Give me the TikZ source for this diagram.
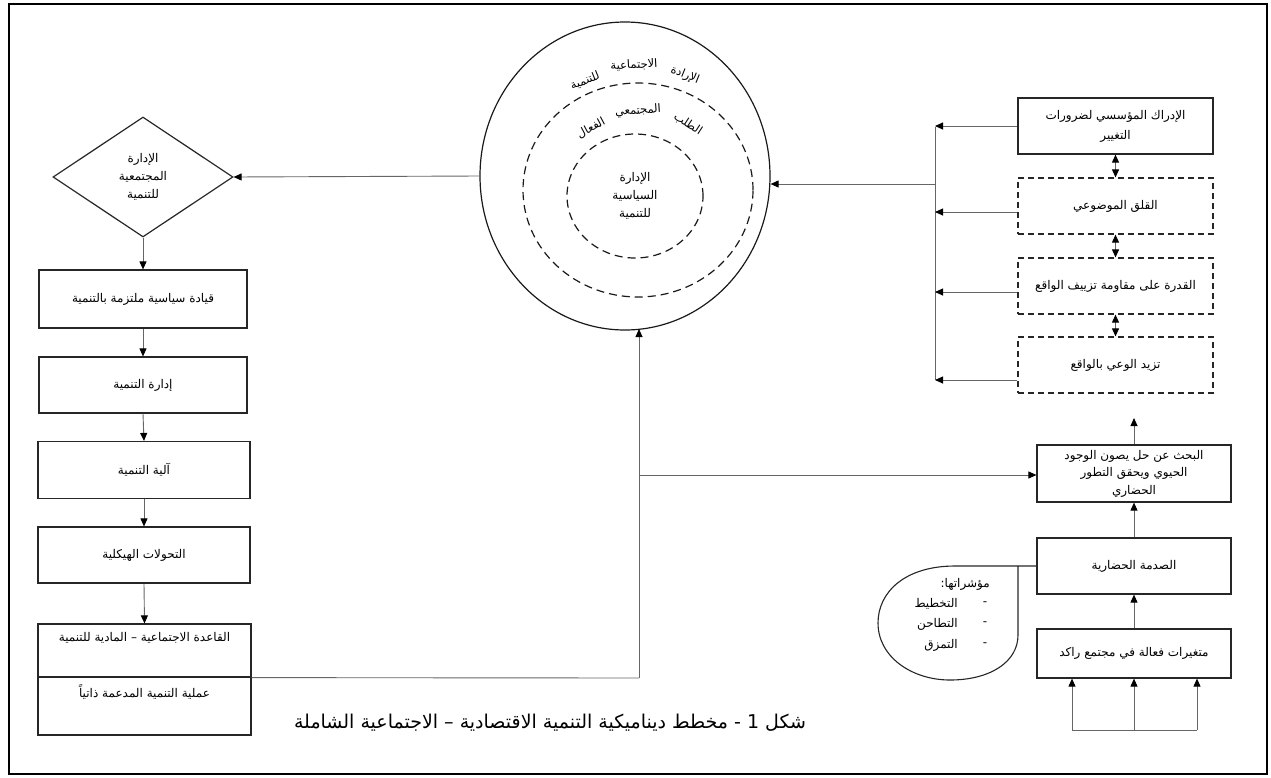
\documentclass[tikz,border=0pt]{standalone}
\usepackage{fontspec}
\TeXXeTstate=1
\newfontfamily\arabicfont[Script=Arabic]{DejaVu Sans}
\usetikzlibrary{arrows.meta,shapes.geometric,calc}
\newcommand\RL[1]{\beginR#1\endR}
\begin{document}
\begin{tikzpicture}[x=1pt,y=-1pt,
  every node/.style={font=\arabicfont\fontsize{12}{15}\selectfont, align=center, inner sep=0pt},
  box/.style={draw=black!85, line width=1.2pt, rectangle},
  dbox/.style={box, dash pattern=on 6pt off 4pt},
  conn/.style={draw=black!60, line width=0.9pt},
  tip/.tip={Triangle[length=8pt,width=7pt,black]},
  arr/.style={conn, -tip},
  darr/.style={conn, tip-tip},
  ring/.style={ellipse, draw=black!90, line width=1.2pt},
  dring/.style={ring, dash pattern=on 8pt off 5pt},
  arcw/.style={font=\arabicfont\fontsize{11.5}{14}\selectfont}]
\useasboundingbox (0,0) rectangle (1271,777);
\draw[line width=2.2pt] (9,4) rectangle (1267,774);

% circles
\node[ring, minimum width=290pt, minimum height=308pt] (outer) at (625,176) {};
\node[dring, minimum width=230pt, minimum height=214pt] (middle) at (638,190) {};
\node[dring, minimum width=136pt, minimum height=124pt, font=\arabicfont\fontsize{12}{18}\selectfont] (inner) at (635,196) {\RL{الإدارة}\\\RL{السياسية}\\\RL{للتنمية}};
\node[arcw, rotate=-22] (w1a) at (685,75) {\RL{الإرادة}};
\node[arcw, rotate=3] (w1b) at (634,65) {\RL{الاجتماعية}};
\node[arcw, rotate=22] (w1c) at (585,81) {\RL{للتنمية}};
\node[arcw, rotate=-33] (w2a) at (688,124) {\RL{الطلب}};
\node[arcw, rotate=4] (w2b) at (638,111) {\RL{المجتمعي}};
\node[arcw, rotate=28] (w2c) at (591,128) {\RL{الفعال}};

% left column
\node[diamond, draw=black!85, line width=1.2pt, minimum width=180pt, minimum height=120pt, font=\arabicfont\fontsize{12}{18}\selectfont] (dia) at (143,177) {\RL{الإدارة}\\\RL{المجتمعية}\\\RL{للتنمية}};
\node[box, minimum width=208pt, minimum height=58pt] (b1) at (143,299) {\RL{قيادة سياسية ملتزمة بالتنمية}};
\node[box, minimum width=208pt, minimum height=56pt] (b2) at (143,385) {\RL{إدارة التنمية}};
\node[box, minimum width=212pt, minimum height=57pt] (b3) at (144,470) {\RL{آلية التنمية}};
\node[box, minimum width=212pt, minimum height=56pt] (b4) at (144,555) {\RL{التحولات الهيكلية}};
\node[box, minimum width=213pt, minimum height=53pt] (base) at (144.5,650.5) {};
\node[box, minimum width=213pt, minimum height=58pt] (proc) at (144.5,706) {};
\node (basetxt) at (144.5,638) {\RL{القاعدة الاجتماعية – المادية للتنمية}};
\node (proctxt) at (144.5,692) {\RL{عملية التنمية المدعمة ذاتياً}};

\draw[arr] (outer.west) -- (dia.east);
\draw[arr] (dia.south) -- (b1.north);
\draw[arr] (b1.south) -- (b2.north);
\draw[arr] (b2.south) -- (b3.north);
\draw[arr] (b3.south) -- (b4.north);
\draw[arr] (b4.south) -- (base.north);

% right column
\node[box, minimum width=195pt, minimum height=56pt, font=\arabicfont\fontsize{12}{20}\selectfont] (ra) at (1115.5,126) {\RL{الإدراك المؤسسي لضرورات}\\\RL{التغيير}};
\node[dbox, minimum width=195pt, minimum height=56pt] (rb) at (1115.5,206) {\RL{القلق الموضوعي}};
\node[dbox, minimum width=195pt, minimum height=56pt] (rc) at (1115.5,286) {\RL{القدرة على مقاومة تزييف الواقع}};
\node[dbox, minimum width=195pt, minimum height=56pt] (rd) at (1115.5,365) {\RL{تزيد الوعي بالواقع}};
\draw[darr] (ra.south) -- (rb.north);
\draw[darr] (rb.south) -- (rc.north);
\draw[darr] (rc.south) -- (rd.north);

\coordinate (busT) at (935,127);
\coordinate (busB) at (935,380);
\coordinate (busM) at (935,184);
\draw[conn] (busT) -- (busB);
\draw[arr] (ra.west) -- (ra.west -| busT);
\draw[arr] ($(rb.west)+(0,6)$) -- ($(rb.west -| busT)+(0,6)$);
\draw[arr] ($(rc.west)+(0,6)$) -- ($(rc.west -| busT)+(0,6)$);
\draw[arr] ($(rd.west)+(0,15)$) -- ($(rd.west -| busT)+(0,15)$);
\draw[arr] (busM) -- ($(outer.east)+(0,8)$);

\node[box, minimum width=194pt, minimum height=57pt, font=\arabicfont\fontsize{12}{17.5}\selectfont] (bahth) at (1134,473.5) {\RL{البحث عن حل يصون الوجود}\\\RL{الحيوي ويحقق التطور}\\\RL{الحضاري}};
\node[box, minimum width=194pt, minimum height=56pt] (sadma) at (1134,566) {\RL{الصدمة الحضارية}};
\node[box, minimum width=194pt, minimum height=49pt] (mut) at (1134,653.5) {\RL{متغيرات فعالة في مجتمع راكد}};
\coordinate (up) at (1134,418);
\draw[arr] (bahth.north) -- (up);
\draw[arr] (sadma.north) -- (bahth.south);
\draw[arr] (mut.north) -- (sadma.south);

\coordinate (bl) at (1072,730);
\coordinate (bm) at (1134,730);
\coordinate (br) at (1197,730);
\draw[conn] (bl) -- (br);
\draw[arr] (bl) -- (bl |- mut.south);
\draw[arr] (bm) -- (mut.south);
\draw[arr] (br) -- (br |- mut.south);

% link from bottom-left box to circle and to search box
\coordinate (corner) at (639,678);
\coordinate (junc) at (639,475);
\coordinate (circbot) at (639,329);
\draw[conn] (base.south east) -- (corner);
\draw[arr] (corner) -- (circbot);
\draw[arr] (junc) -- (junc -| bahth.west);

% callout
\draw[line width=1.1pt, draw=black!85] (sadma.west) -- (955,566) .. controls (905,566) and (878,592) .. (878,623) .. controls (878,657) and (912,680) .. (950,680) .. controls (990,680) and (1018,662) .. (1018,635) -- (1018,566);
\node[anchor=east] (ind) at (990,584) {\RL{مؤشراتها:}};
\node (d1) at (985,604) {-};
\node (d2) at (985,624) {-};
\node (d3) at (985,645) {-};
\node[anchor=east] (i1) at (958,604) {\RL{التخطيط}};
\node[anchor=east] (i2) at (958,624) {\RL{التطاحن}};
\node[anchor=east] (i3) at (958,645) {\RL{التمزق}};

% caption
\node[font=\arabicfont\fontsize{19}{22}\selectfont] (cap) at (550,723) {\RL{شكل 1 - مخطط ديناميكية التنمية الاقتصادية – الاجتماعية الشاملة}};
\end{tikzpicture}
\end{document}
